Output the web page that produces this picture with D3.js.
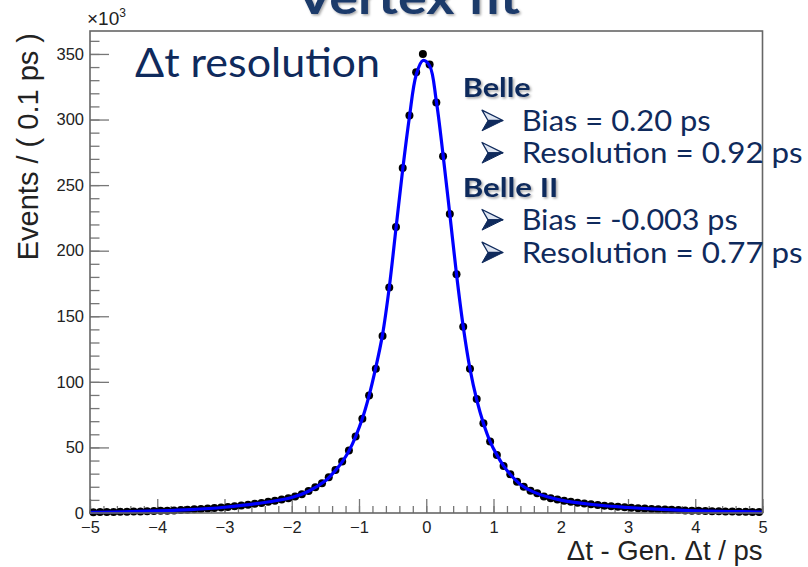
<!DOCTYPE html>
<html>
<head>
<meta charset="utf-8">
<script src="https://cdn.jsdelivr.net/npm/d3@7"></script>
<style>
  html, body { margin: 0; padding: 0; background: #fff; }
  svg { display: block; }
</style>
</head>
<body>
<div id="chart"></div>
<script>
// ---------------- data (values in units of 10^3 events per 0.1 ps bin) ----------------
const binCenters = [
  -4.95,-4.85,-4.75,-4.65,-4.55,-4.45,-4.35,-4.25,-4.15,-4.05,
  -3.95,-3.85,-3.75,-3.65,-3.55,-3.45,-3.35,-3.25,-3.15,-3.05,
  -2.95,-2.85,-2.75,-2.65,-2.55,-2.45,-2.35,-2.25,-2.15,-2.05,
  -1.95,-1.85,-1.75,-1.65,-1.55,-1.45,-1.35,-1.25,-1.15,-1.05,
  -0.95,-0.85,-0.75,-0.65,-0.55,-0.45,-0.35,-0.25,-0.15,-0.05,
   0.05, 0.15, 0.25, 0.35, 0.45, 0.55, 0.65, 0.75, 0.85, 0.95,
   1.05, 1.15, 1.25, 1.35, 1.45, 1.55, 1.65, 1.75, 1.85, 1.95,
   2.05, 2.15, 2.25, 2.35, 2.45, 2.55, 2.65, 2.75, 2.85, 2.95,
   3.05, 3.15, 3.25, 3.35, 3.45, 3.55, 3.65, 3.75, 3.85, 3.95,
   4.05, 4.15, 4.25, 4.35, 4.45, 4.55, 4.65, 4.75, 4.85, 4.95
];
const binCounts = [
  0.6, 0.7, 0.75, 0.8, 0.9, 1.0, 1.1, 1.2, 1.4, 1.5,
  1.7, 1.8, 2.0, 2.3, 2.5, 2.8, 3.1, 3.4, 3.8, 4.2,
  4.6, 5.1, 5.7, 6.3, 7.0, 7.7, 8.5, 9.3, 10.2, 11.2,
  12.5, 14.3, 16.8, 19.6, 22.7, 27.3, 32.8, 39.2, 47.6, 58.3,
  71.8, 89.6, 110, 135, 172, 218, 263, 303, 336, 350,
  342, 313, 272, 228, 182, 142, 110, 87, 68.5, 54.5,
  44.3, 35.9, 29.5, 23.9, 20.1, 17.0, 15.0, 12.5, 11.3, 10.2,
  9.3, 8.5, 7.8, 7.2, 6.6, 6.1, 5.6, 5.2, 4.8, 4.4,
  4.0, 3.7, 3.4, 3.1, 2.8, 2.6, 2.4, 2.2, 2.0, 1.8,
  1.7, 1.5, 1.4, 1.3, 1.2, 1.1, 1.0, 0.9, 0.85, 0.8
];
const fitX = [
  -5.0,-4.5,-4.0,-3.5,-3.0,-2.5,-2.0,-1.75,-1.5,-1.35,-1.25,-1.15,-1.05,
  -0.95,-0.85,-0.75,-0.65,-0.55,-0.45,-0.35,-0.25,-0.15,-0.05,
  0.05,0.15,0.25,0.35,0.45,0.55,0.65,0.75,0.85,0.95,1.05,1.15,1.25,1.4,1.6,
  2.0,2.5,3.0,3.5,4.0,4.5,5.0
];
const fitY = [
  0.55,0.95,1.6,2.6,4.4,7.3,11.8,16.6,24.5,32.5,39.0,47.3,58.3,
  72.0,89.5,111,136,172,217,262,302,334,345,
  341,314,273,228,182,142,110,86.5,68.5,54.5,44.3,35.9,29.4,21.8,15.9,
  9.8,6.3,4.2,2.7,1.7,1.15,0.75
];
const xTicksMajor = [-5,-4,-3,-2,-1,0,1,2,3,4,5];
const yTicksMajor = [0,50,100,150,200,250,300,350];
const xTitle = "\u0394t - Gen. \u0394t / ps";
const yTitle = "Events / ( 0.1 ps )";
const slideTitle = "Vertex fit";
const plotLabel = "\u0394t resolution";
const legendGroups = [
  {head: "Belle",    items: ["Bias = 0.20 ps", "Resolution = 0.92 ps"]},
  {head: "Belle II", items: ["Bias = -0.003 ps", "Resolution = 0.77 ps"]}
];

// ---------------- layout ----------------
const W = 808, H = 567;
const L = 90, R = 762.5, T = 31, B = 513;
const navy = "#0f2a5c";

const svg = d3.select("#chart").append("svg").attr("width", W).attr("height", H);
const defs = svg.append("defs");
const f = defs.append("filter").attr("id", "shadow").attr("x", "-10%").attr("y", "-10%").attr("width", "130%").attr("height", "140%");
f.append("feDropShadow").attr("dx", 1.5).attr("dy", 1.5).attr("stdDeviation", 1.2).attr("flood-color", "#000").attr("flood-opacity", 0.35);

const x = d3.scaleLinear().domain([-5, 5]).range([L, R]);
const y = d3.scaleLinear().domain([0, 367.5]).range([B, T]);

// slide title (mostly cropped at top, as in the source slide)
svg.append("text").attr("x", 408).attr("y", 14).attr("text-anchor", "middle")
  .attr("font-family", "Lato, 'Open Sans', sans-serif").attr("font-weight", 700)
  .attr("font-size", 46).attr("fill", "#1f3a6b").attr("filter", "url(#shadow)")
  .attr("textLength", 224).attr("lengthAdjust", "spacingAndGlyphs")
  .text(slideTitle);

const tickFont = "'Liberation Sans', Arial, Helvetica, sans-serif";
const axisColor = "#777";

// x axis minor + major
const gxMinor = svg.append("g").attr("transform", `translate(0,${B})`)
  .call(d3.axisBottom(x).tickValues(d3.range(-50, 51, 2).map(v => v / 10)).tickSize(-7).tickSizeOuter(0).tickFormat(""));
const gx = svg.append("g").attr("transform", `translate(0,${B})`)
  .call(d3.axisBottom(x).tickValues(xTicksMajor).tickSize(-14).tickSizeOuter(0).tickPadding(8).tickFormat(d3.format("d")));
const gyMinor = svg.append("g").attr("transform", `translate(${L},0)`)
  .call(d3.axisLeft(y).tickValues(d3.range(0, 361, 10)).tickSize(-9.5).tickSizeOuter(0).tickFormat(""));
const gy = svg.append("g").attr("transform", `translate(${L},0)`)
  .call(d3.axisLeft(y).tickValues(yTicksMajor).tickSize(-19).tickSizeOuter(0).tickPadding(6).tickFormat(d3.format("d")));
[gxMinor, gx, gyMinor, gy].forEach(g => {
  g.select(".domain").remove();
  g.selectAll("line").attr("stroke", axisColor).attr("stroke-width", 1.3);
  g.selectAll("text").attr("font-family", tickFont).attr("font-size", 16.5).attr("fill", "#222");
});
gx.selectAll("text").attr("dy", "0.75em");

// x10^3
const e3 = svg.append("text").attr("x", L - 3).attr("y", 25).attr("font-family", tickFont).attr("font-size", 19).attr("fill", "#222");
e3.append("tspan").text("\u00d710");
e3.append("tspan").attr("font-size", 12).attr("dy", -8).text("3");

// axis titles
svg.append("text").attr("x", R).attr("y", 560).attr("text-anchor", "end")
  .attr("font-family", tickFont).attr("font-size", 27.5).attr("fill", "#222").text(xTitle);
svg.append("text").attr("transform", `translate(38,${T + 2}) rotate(-90)`).attr("text-anchor", "end")
  .attr("font-family", tickFont).attr("font-size", 29).attr("fill", "#222").text(yTitle);

// data: x error bars + markers
const pts = binCenters.map((c, i) => ({c, v: binCounts[i]}));
const gData = svg.append("g");
gData.selectAll("line.xe").data(pts).enter().append("line")
  .attr("x1", d => x(d.c - 0.05)).attr("x2", d => x(d.c + 0.05))
  .attr("y1", d => y(d.v)).attr("y2", d => y(d.v))
  .attr("stroke", "#000").attr("stroke-width", 1.2);
gData.selectAll("circle").data(pts).enter().append("circle")
  .attr("cx", d => x(d.c)).attr("cy", d => y(d.v)).attr("r", 4).attr("fill", "#000");

// fit curve
const fitPts = fitX.map((v, i) => [v, fitY[i]]);
svg.append("path").datum(fitPts)
  .attr("d", d3.line().x(d => x(d[0])).y(d => y(d[1])).curve(d3.curveCatmullRom.alpha(0.5)))
  .attr("fill", "none").attr("stroke", "#0000ff").attr("stroke-width", 3.2);

// frame
svg.append("rect").attr("x", L).attr("y", T).attr("width", R - L).attr("height", B - T)
  .attr("fill", "none").attr("stroke", "#666").attr("stroke-width", 1.6);

// slide annotations
const slideFont = "Lato, 'Open Sans', sans-serif";
svg.append("text").attr("x", 135).attr("y", 77).attr("font-family", slideFont)
  .attr("font-size", 40).attr("fill", navy)
  .attr("textLength", 245).attr("lengthAdjust", "spacingAndGlyphs").text(plotLabel);

const headY = [97.3, 197.3];
const itemY = [[130.7, 163], [230, 262.7]];
const itemW = [[189, 281], [216, 281]];
const headW = [68, 95.6];
legendGroups.forEach((g, gi) => {
  svg.append("text").attr("x", 462.7).attr("y", headY[gi]).attr("font-family", slideFont)
    .attr("font-weight", 700).attr("font-size", 26).attr("fill", navy).attr("filter", "url(#shadow)")
    .attr("textLength", headW[gi]).attr("lengthAdjust", "spacingAndGlyphs").text(g.head);
  g.items.forEach((t, ii) => {
    const by = itemY[gi][ii];
    const ax = 482, ay = by - 20.5;
    const a = svg.append("g").attr("transform", `translate(${ax},${ay})`);
    a.append("path").attr("d", "M0,0 L21,10.3 L6,10.3 Z").attr("fill", "#dfe6f2").attr("stroke", navy).attr("stroke-width", 1.3).attr("stroke-linejoin", "round");
    a.append("path").attr("d", "M6,10.3 L21,10.3 L0,20.6 Z").attr("fill", navy).attr("stroke", navy).attr("stroke-width", 1).attr("stroke-linejoin", "round");
    svg.append("text").attr("x", 521.7).attr("y", by).attr("font-family", slideFont)
      .attr("font-size", 29).attr("fill", navy)
      .attr("textLength", itemW[gi][ii]).attr("lengthAdjust", "spacingAndGlyphs").text(t);
  });
});
</script>
</body>
</html>
